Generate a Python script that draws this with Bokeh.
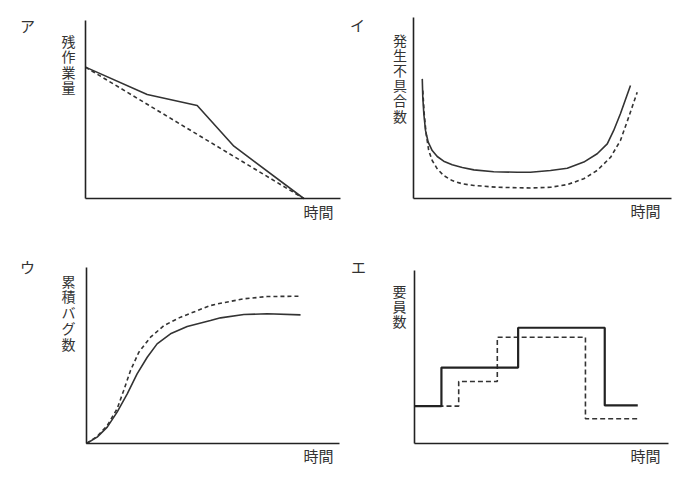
from bokeh.plotting import figure
from bokeh.layouts import column, row
from bokeh.models import Range1d, Label
from bokeh.embed import file_html
from bokeh.resources import INLINE

# ---------------- data (x: 0..100 along time axis, y: 0..100 along value axis) ----------------
# ア 残作業量
a_actual_x = [0, 24.2, 43.8, 58.2, 85.6]
a_actual_y = [73.8, 58.4, 52.2, 29.4, 0]
a_plan_x = [0, 85.6]
a_plan_y = [73.8, 0]

# イ 発生不具合数
i_solid_x = [3.4, 3.6, 4.0, 4.65, 5.7, 7.25, 9.2, 11.7, 15.0, 18.9, 23.4, 31.1, 40.2, 45.3, 53.1, 59.6, 66.0, 71.2, 75.1, 77.6, 80.2, 84.1]
i_solid_y = [66.1, 56.0, 46.8, 37.6, 31.1, 26.5, 23.2, 20.6, 18.6, 17.1, 15.8, 14.8, 14.5, 14.5, 15.5, 16.7, 20.1, 24.7, 30.2, 37.6, 46.8, 62.4]
i_dash_x = [3.6, 4.15, 4.9, 5.9, 7.25, 9.2, 11.7, 15.0, 18.9, 23.4, 32.4, 45.3, 53.1, 59.6, 66.0, 71.2, 76.4, 80.2, 83.4, 86.7]
i_dash_y = [59.7, 46.8, 35.7, 26.5, 21.0, 16.4, 12.7, 9.9, 8.1, 7.2, 6.2, 5.8, 6.2, 7.7, 10.9, 15.5, 22.8, 32.0, 44.9, 58.7]

# ウ 累積バグ数
u_solid_x = [0, 4.2, 8.2, 12.1, 16.1, 20.0, 24.0, 27.9, 33.2, 39.8, 49.0, 53.0, 62.2, 71.4, 84.6]
u_solid_y = [0, 3.6, 9.3, 17.8, 28.2, 39.6, 49.0, 56.6, 62.3, 66.5, 69.9, 71.4, 73.3, 73.7, 73.1]
u_dash_x = [0, 4.2, 8.2, 12.1, 14.7, 17.4, 20.7, 25.3, 30.6, 37.2, 49.0, 53.0, 62.2, 71.4, 84.6]
u_dash_y = [0, 4.0, 10.2, 19.7, 30.1, 41.5, 51.9, 60.4, 67.0, 71.8, 78.4, 79.7, 82.2, 83.5, 83.7]

# エ 要員数 (step, value holds until next x)
e_solid_x = [0, 10.6, 40.8, 74.9, 87.9]
e_solid_y = [21.6, 43.9, 66.9, 22.0, 22.0]
e_dash_x = [0, 17.4, 32.6, 67.3, 87.9]
e_dash_y = [21.6, 35.8, 61.4, 14.3, 14.3]

panel_letters = ["ア", "イ", "ウ", "エ"]
y_titles = ["残作業量", "発生不具合数", "累積バグ数", "要員数"]
x_title = "時間"

FONT = "Noto Sans CJK JP"
INK = "#333333"
W, H = 348, 238

# page-pixel geometry: (canvas_left, canvas_top, axis_left, axis_top, axis_right, axis_bottom)
GEOM = [
    (0, 0, 85, 20, 340, 198),
    (W, 0, 413, 17, 671, 198),
    (0, H, 86, 267, 339, 443),
    (W, H, 414, 270, 668, 443),
]
# text anchors in page pixels: letter centre, y-title (centre x, first char centre y, pitch), x-title centre
TEXT_POS = [
    ((27, 25), (68, 40, 15.5), (318, 211)),
    ((357, 24), (399.5, 39, 15.2), (645, 210)),
    ((27, 266), (68, 280, 15.8), (318, 455)),
    ((358, 266), (399, 290, 15.0), (645, 455)),
]


def make_fig(idx):
    cl, ct, fl, ft, fr, fb = GEOM[idx]
    sx = 100.0 / (fr - fl)
    sy = 100.0 / (fb - ft)
    xr = Range1d((cl - fl) * sx, (cl + W - fl) * sx)
    yr = Range1d((fb - (ct + H)) * sy, (fb - ct) * sy)
    p = figure(width=W, height=H, output_backend="svg", toolbar_location=None,
               x_range=xr, y_range=yr,
               min_border_left=0, min_border_right=0, min_border_top=0, min_border_bottom=0)
    p.title.visible = False
    p.outline_line_color = None
    p.grid.visible = False
    p.background_fill_color = "white"
    p.border_fill_color = "white"
    for ax in (p.xaxis, p.yaxis):
        ax.fixed_location = 0
        ax.bounds = (0, 100)
        ax.ticker = []
        ax.major_tick_line_color = None
        ax.minor_tick_line_color = None
        ax.major_tick_out = 0
        ax.major_tick_in = 0
        ax.major_label_standoff = 0
        ax.major_label_text_font_size = "0px"
        ax.axis_line_color = "#222222"
        ax.axis_line_width = 1.6

    def to_data(px, py):
        return ((px - fl) * sx, (fb - py) * sy)

    def put(px, py, txt, size="15px"):
        x, y = to_data(px, py)
        p.add_layout(Label(x=x, y=y, text=txt, text_font=FONT, text_font_size=size,
                           text_color=INK, text_align="center", text_baseline="middle"))

    (lx, ly), (tx, ty0, pitch), (hx, hy) = TEXT_POS[idx]
    put(lx, ly, panel_letters[idx])
    for k, ch in enumerate(y_titles[idx]):
        put(tx, ty0 + k * pitch, ch, "14px")
    put(hx, hy, x_title)
    return p


p1 = make_fig(0)
p1.line(a_plan_x, a_plan_y, line_color=INK, line_width=1.6, line_dash="4 3")
p1.line(a_actual_x, a_actual_y, line_color=INK, line_width=1.6)

p2 = make_fig(1)
p2.line(i_dash_x, i_dash_y, line_color=INK, line_width=1.6, line_dash="4 3")
p2.line(i_solid_x, i_solid_y, line_color=INK, line_width=1.6)

p3 = make_fig(2)
p3.line(u_dash_x, u_dash_y, line_color=INK, line_width=1.6, line_dash="4 3")
p3.line(u_solid_x, u_solid_y, line_color=INK, line_width=1.6)

p4 = make_fig(3)
p4.step(e_dash_x, e_dash_y, mode="after", line_color=INK, line_width=1.6, line_dash="5 3")
p4.step(e_solid_x, e_solid_y, mode="after", line_color="#222222", line_width=2.2)

layout = column(row(p1, p2), row(p3, p4))
open("out.html", "w").write(file_html(layout, INLINE))
